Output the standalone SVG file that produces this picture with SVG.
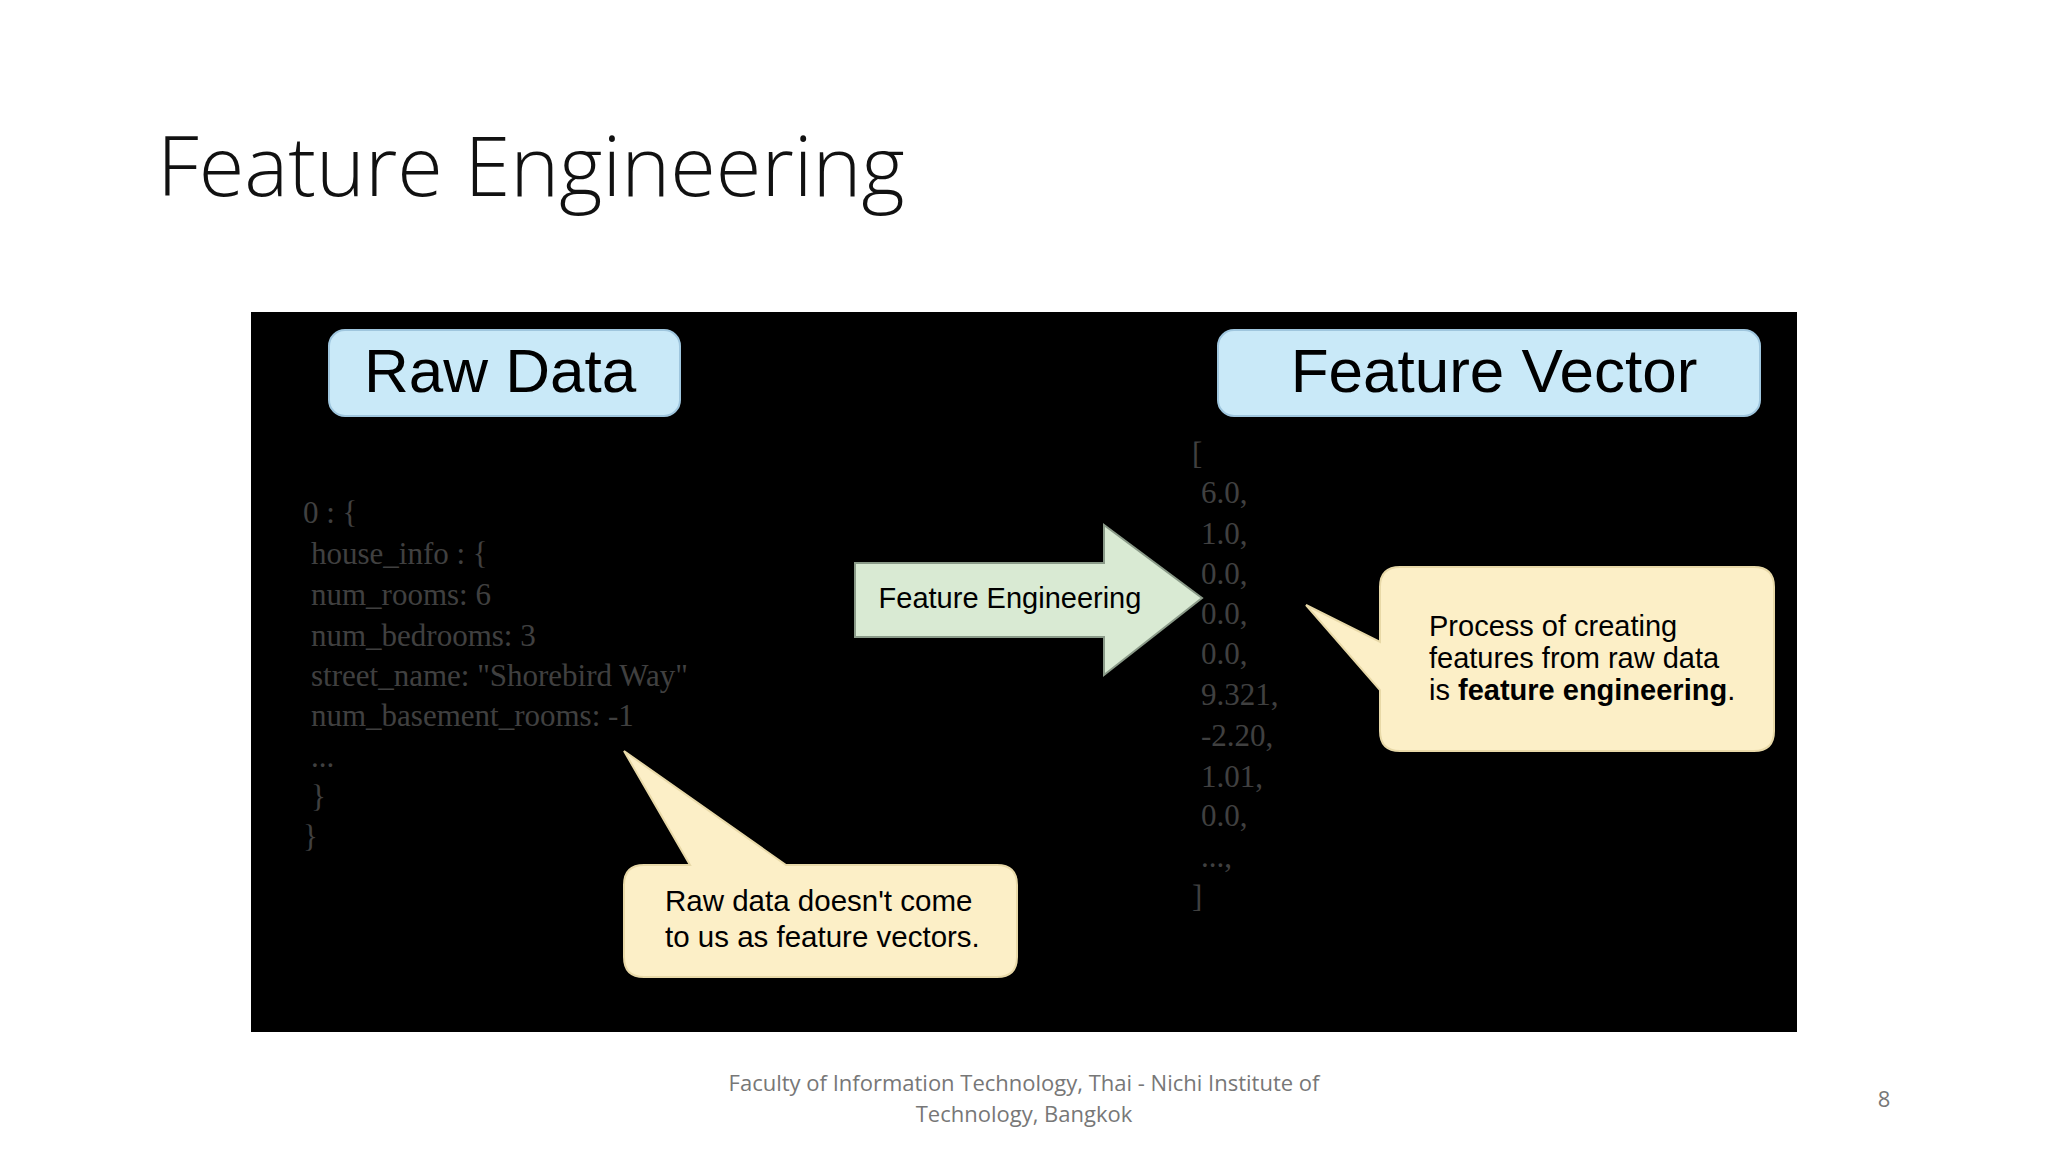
<svg xmlns="http://www.w3.org/2000/svg" width="2048" height="1152" viewBox="0 0 2048 1152">
<style>
.code{font-family:"Liberation Serif",serif;font-size:31px;fill:#404040}
.lbl{font-family:"Liberation Sans",Arial,sans-serif;fill:#000}
.hdr{fill:#c9e9f8;stroke:#9fc6de;stroke-width:2}
.call{fill:#fcefc7;stroke:#e8d9a8;stroke-width:2}
.foot{font-family:"Open Sans",sans-serif;font-size:22px;fill:#777}
</style>
<rect width="2048" height="1152" fill="#fff"/>
<text x="157" y="196" font-family="Open Sans, sans-serif" font-weight="300" font-size="83" fill="#111">Feature Engineering</text>
<rect x="251" y="312" width="1546" height="720" fill="#000"/>
<g id="raw-data">
<rect class="hdr" x="329" y="330" width="351" height="86" rx="16"/>
<text class="lbl" x="500" y="392" font-size="62" text-anchor="middle">Raw Data</text>
</g>
<g id="feature-vector">
<rect class="hdr" x="1218" y="330" width="542" height="86" rx="16"/>
<text class="lbl" x="1494" y="392" font-size="62" text-anchor="middle">Feature Vector</text>
</g>
<g id="raw-code">
<text class="code" x="303" y="523">0 : {</text>
<text class="code" x="311" y="564">house_info : {</text>
<text class="code" x="311" y="605">num_rooms: 6</text>
<text class="code" x="311" y="646">num_bedrooms: 3</text>
<text class="code" x="311" y="686">street_name: "Shorebird Way"</text>
<text class="code" x="311" y="726">num_basement_rooms: -1</text>
<text class="code" x="311" y="767">...</text>
<text class="code" x="311" y="807">}</text>
<text class="code" x="303" y="847">}</text>
</g>
<g id="vector-values">
<text class="code" x="1192" y="464">[</text>
<text class="code" x="1201" y="503">6.0,</text>
<text class="code" x="1201" y="544">1.0,</text>
<text class="code" x="1201" y="584">0.0,</text>
<text class="code" x="1201" y="624">0.0,</text>
<text class="code" x="1201" y="664">0.0,</text>
<text class="code" x="1201" y="705">9.321,</text>
<text class="code" x="1201" y="746">-2.20,</text>
<text class="code" x="1201" y="787">1.01,</text>
<text class="code" x="1201" y="826">0.0,</text>
<text class="code" x="1201" y="867">...,</text>
<text class="code" x="1192" y="907">]</text>
</g>
<g id="connectors">
<g id="fe-arrow">
<polygon points="855,563 1104,563 1104,525 1202,598 1104,675 1104,637 855,637" fill="#d9ead3" stroke="#8a9a88" stroke-width="2"/>
<text class="lbl" x="1010" y="608" font-size="29" text-anchor="middle">Feature Engineering</text>
</g>
</g>
<g id="callout-fe">
<path class="call" d="M1400,567 H1754 Q1774,567 1774,587 V731 Q1774,751 1754,751 H1400 Q1380,751 1380,731 V690 L1306,605 L1380,642 V587 Q1380,567 1400,567 Z"/>
<text class="lbl" x="1429" y="636" font-size="29">Process of creating</text>
<text class="lbl" x="1429" y="668" font-size="29">features from raw data</text>
<text class="lbl" x="1429" y="700" font-size="29">is <tspan font-weight="bold">feature engineering</tspan>.</text>
</g>
<g id="callout-raw">
<path class="call" d="M644,865 H690 L624,751 L786,865 H997 Q1017,865 1017,885 V957 Q1017,977 997,977 H644 Q624,977 624,957 V885 Q624,865 644,865 Z"/>
<text class="lbl" x="665" y="911" font-size="29.5">Raw data doesn't come</text>
<text class="lbl" x="665" y="947" font-size="29.5">to us as feature vectors.</text>
</g>
<text class="foot" x="1024" y="1091" text-anchor="middle">Faculty of Information Technology, Thai - Nichi Institute of</text>
<text class="foot" x="1024" y="1122" text-anchor="middle">Technology, Bangkok</text>
<text class="foot" x="1884" y="1107" text-anchor="middle">8</text>
</svg>
